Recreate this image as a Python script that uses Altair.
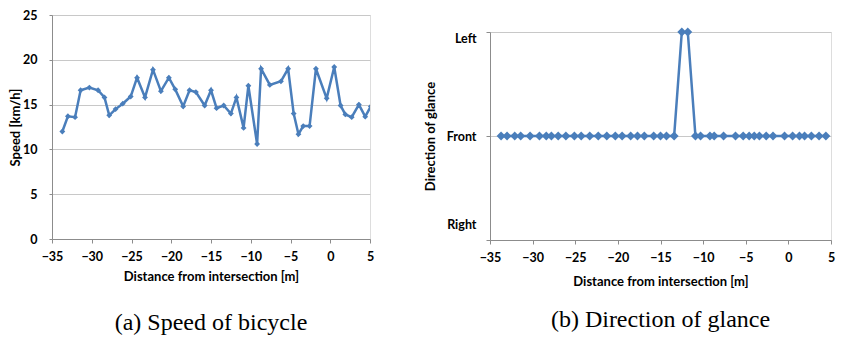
import altair as alt
import pandas as pd

# Distance from intersection [m] (shared by both panels)
distance = [-33.7, -33.0, -32.1, -31.4, -30.3, -29.2, -28.4, -27.8, -27.0, -26.1,
            -25.1, -24.3, -23.3, -22.3, -21.3, -20.3, -19.5, -18.5, -17.7, -16.9,
            -15.8, -15.0, -14.3, -13.4, -12.5, -11.8, -10.9, -10.3, -9.2, -8.7,
            -7.6, -6.2, -5.3, -4.6, -4.0, -3.4, -2.6, -1.8, -0.45, 0.5,
            1.3, 1.9, 2.7, 3.6, 4.4, 5.1]

# Speed [km/h]
speed = [12.0, 13.7, 13.6, 16.6, 16.9, 16.6, 15.8, 13.8, 14.5, 15.1,
         15.9, 18.0, 15.8, 18.9, 16.5, 18.0, 16.7, 14.8, 16.6, 16.4,
         14.9, 16.6, 14.6, 14.9, 14.0, 15.8, 12.4, 17.1, 10.6, 19.0,
         17.2, 17.6, 19.0, 14.0, 11.7, 12.6, 12.6, 19.0, 15.7, 19.2,
         14.9, 13.9, 13.6, 15.0, 13.65, 14.8]

# Direction of glance: 1 = Left, 0 = Front, -1 = Right (points visible in panel b)
glance = [0, 0, 0, 0, 0, 0, 0, 0, 0, 0,
          0, 0, 0, 0, 0, 0, 0, 0, 0, 0,
          0, 0, 0, 0, 1, 1, 0, 0, 0, 0,
          0, 0, 0, 0, 0, 0, 0, 0, 0, 0,
          0, 0, 0, 0, 0]

x_ticks = [-35, -30, -25, -20, -15, -10, -5, 0, 5]
speed_ticks = [0, 5, 10, 15, 20, 25]
glance_ticks = [-1, 0, 1]

BLUE = "#4a7ebb"
AXIS_GRAY = "#8c8c8c"
GRID_GRAY = "#c8c8c8"
FONT = "Lato"
LABEL_SIZE = 12.5
TITLE_SIZE = 13

speed_df = pd.DataFrame({"distance": distance, "speed": speed})
glance_df = pd.DataFrame({"distance": distance[:len(glance)], "glance": glance})

x_scale = alt.Scale(domain=[-35, 5], nice=False, zero=False)


def x_axis(title_pad):
    return alt.Axis(values=x_ticks, grid=False, domainColor=AXIS_GRAY, tickColor=AXIS_GRAY,
                    tickSize=4, labelPadding=7, labelFlush=False, labelFont=FONT,
                    labelFontWeight="bold", labelFontSize=LABEL_SIZE, labelColor="black",
                    title="Distance from intersection [m]", titleFont=FONT, titleFontWeight="bold",
                    titleFontSize=TITLE_SIZE, titleColor="black", titlePadding=title_pad)


# ---- (a) speed ----
sx = alt.X("distance:Q", scale=x_scale, axis=x_axis(8))
sy = alt.Y("speed:Q", scale=alt.Scale(domain=[0, 25], nice=False),
           axis=alt.Axis(values=speed_ticks, grid=True, gridColor=GRID_GRAY, domainColor=AXIS_GRAY,
                         tickColor=AXIS_GRAY, tickSize=3, labelPadding=12, labelFlush=False,
                         labelFont=FONT, labelFontWeight="bold", labelFontSize=LABEL_SIZE,
                         labelColor="black", title="Speed [km/h]", titleFont=FONT,
                         titleFontWeight="bold", titleFontSize=TITLE_SIZE, titleColor="black",
                         titlePadding=0))

speed_line = alt.Chart(speed_df).mark_line(color=BLUE, strokeWidth=2.5, clip=True).encode(x=sx, y=sy)
speed_pts = alt.Chart(speed_df).mark_point(shape="diamond", filled=True, size=34, color=BLUE,
                                           opacity=1, clip=True).encode(x=sx, y=sy)

left = alt.layer(speed_line, speed_pts).properties(
    width=318, height=224,
    title=alt.TitleParams("(a) Speed of bicycle", orient="bottom", anchor="middle",
                          font="Liberation Serif", fontSize=24, fontWeight="normal",
                          color="black", offset=27),
)

# ---- (b) glance ----
gx = alt.X("distance:Q", scale=x_scale, axis=x_axis(12))
gy = alt.Y("glance:Q", scale=alt.Scale(domain=[-1, 1], nice=False),
           axis=alt.Axis(values=glance_ticks,
                         labelExpr="datum.value == 1 ? 'Left' : (datum.value == 0 ? 'Front' : 'Right')",
                         grid=True, gridColor=GRID_GRAY, domainColor=AXIS_GRAY, tickColor=AXIS_GRAY,
                         tickSize=4, labelPadding=10, labelFlush=False, labelFont=FONT,
                         labelFontWeight="bold", labelFontSize=LABEL_SIZE, labelColor="black",
                         labelLineHeight=32,
                         labelBaseline={"condition": [{"test": "datum.value == 1", "value": "top"},
                                                      {"test": "datum.value == -1", "value": "line-bottom"}],
                                        "value": "middle"},
                         title="Direction of glance", titleFont=FONT, titleFontWeight="bold",
                         titleFontSize=TITLE_SIZE, titleColor="black", titlePadding=9))

glance_line = alt.Chart(glance_df).mark_line(color=BLUE, strokeWidth=2.5, clip=True).encode(x=gx, y=gy)
glance_pts = alt.Chart(glance_df).mark_point(shape="diamond", filled=True, size=80, color=BLUE,
                                             opacity=1).encode(x=gx, y=gy)

right_plot = alt.layer(glance_line, glance_pts).properties(
    width=341, height=208,
    title=alt.TitleParams("(b) Direction of glance", orient="bottom", anchor="middle",
                          font="Liberation Serif", fontSize=24, fontWeight="normal",
                          color="black", offset=19),
)

spacer = alt.Chart(pd.DataFrame({"a": [0]})).mark_point(opacity=0).properties(width=1, height=12)

right = alt.vconcat(spacer, right_plot, spacing=0)

chart = alt.hconcat(left, right, spacing=48).properties(
    padding={"left": 1, "top": 0, "right": 0, "bottom": 0}
).configure_view(strokeWidth=0).configure(background="white")

chart.save("out.html", embed_options={"renderer": "svg", "actions": False})
